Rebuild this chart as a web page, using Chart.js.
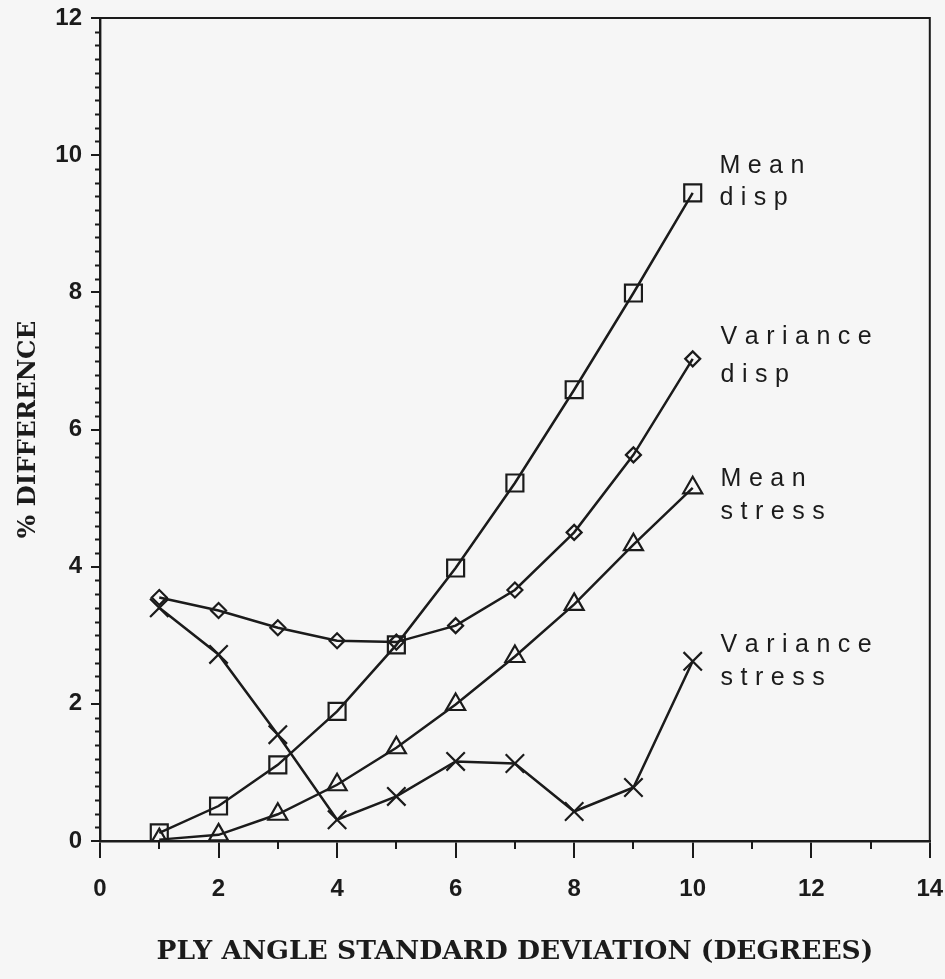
<!DOCTYPE html>
<html>
<head>
<meta charset="utf-8">
<title>Ply angle standard deviation</title>
<script src="https://cdn.jsdelivr.net/npm/chart.js@4.4.0/dist/chart.umd.min.js"></script>
<style>
  html, body { margin: 0; padding: 0; background: #f6f6f6; }
  canvas { display: block; }
</style>
</head>
<body>
<canvas id="plyChart" width="945" height="979"></canvas>
<script>
// ply angle standard deviation (degrees)
const plyAngleSD = [1, 2, 3, 4, 5, 6, 7, 8, 9, 10];

// % difference per response quantity
const meanDisp       = [0.12, 0.51, 1.11, 1.89, 2.86, 3.98, 5.22, 6.58, 7.99, 9.45];
const varianceDisp   = [3.55, 3.36, 3.11, 2.92, 2.90, 3.14, 3.66, 4.50, 5.63, 7.03];
const meanStress     = [0.02, 0.09, 0.39, 0.82, 1.36, 1.99, 2.69, 3.45, 4.32, 5.15];
const varianceStress = [3.40, 2.72, 1.55, 0.31, 0.65, 1.16, 1.13, 0.43, 0.78, 2.62];

const seriesNames = ['Mean disp', 'Variance disp', 'Mean stress', 'Variance stress'];

const xRange = [0, 14];
const yRange = [0, 12];

const INK = '#1b1b1b';
const TICK_FONT = { family: "'Liberation Sans', Arial, sans-serif", size: 24, weight: 'bold' };

// where each curve's name sits (data units), and the gap between its two lines (px)
const labelSpots = [
  { x: 10.45, y: 9.74, gap: 32 },
  { x: 10.47, y: 7.24, gap: 38 },
  { x: 10.47, y: 5.17, gap: 33 },
  { x: 10.47, y: 2.76, gap: 33 }
];

const toPoints = vals => vals.map((v, i) => ({ x: plyAngleSD[i], y: v }));

function lineSet(label, vals, style, radius) {
  return {
    label,
    data: toPoints(vals),
    borderColor: INK,
    borderWidth: 2.5,
    backgroundColor: 'rgba(0,0,0,0)',
    pointStyle: style,
    pointRadius: radius,
    pointBorderColor: INK,
    pointBorderWidth: 2.2,
    pointBackgroundColor: 'rgba(0,0,0,0)',
    tension: 0,
    fill: false
  };
}

// letter-spaced text, drawn one glyph at a time
function drawSpaced(ctx, text, x, y, spacing) {
  let cx = x;
  for (const ch of text) {
    ctx.fillText(ch, cx, y);
    cx += ctx.measureText(ch).width + spacing;
  }
}

const frameBox = {
  id: 'frameBox',
  beforeDatasetsDraw(chart) {
    const { ctx, chartArea: a } = chart;
    ctx.save();
    ctx.strokeStyle = INK;
    ctx.lineWidth = 2;
    ctx.strokeRect(a.left, a.top, a.right - a.left, a.bottom - a.top);
    ctx.restore();
  }
};

const minorTicks = {
  id: 'minorTicks',
  afterDraw(chart) {
    const { ctx, chartArea: a, scales: { x, y } } = chart;
    ctx.save();
    ctx.strokeStyle = INK;
    ctx.lineWidth = 2;
    ctx.beginPath();
    for (let v = xRange[0] + 1; v < xRange[1]; v += 2) {
      const px = Math.round(x.getPixelForValue(v));
      ctx.moveTo(px, a.bottom);
      ctx.lineTo(px, a.bottom + 8);
    }
    for (let k = 1; k < 60; k++) {
      if (k % 10 === 0) continue;
      const py = Math.round(y.getPixelForValue(k * 0.2)) + 0.5;
      ctx.moveTo(a.left - 5, py);
      ctx.lineTo(a.left, py);
    }
    ctx.stroke();
    ctx.restore();
  }
};

const curveLabels = {
  id: 'curveLabels',
  afterDatasetsDraw(chart) {
    const { ctx, scales: { x, y } } = chart;
    ctx.save();
    ctx.fillStyle = INK;
    ctx.font = "25px 'Liberation Sans', Arial, sans-serif";
    ctx.textBaseline = 'alphabetic';
    ctx.textAlign = 'left';
    labelSpots.forEach((spot, i) => {
      const px = x.getPixelForValue(spot.x);
      const py = y.getPixelForValue(spot.y);
      seriesNames[i].split(' ').forEach((word, j) => {
        drawSpaced(ctx, word, px, py + j * spot.gap, 7.5);
      });
    });
    ctx.restore();
  }
};

new Chart(document.getElementById('plyChart'), {
  type: 'line',
  data: {
    datasets: [
      lineSet(seriesNames[0], meanDisp, 'rect', 12),
      lineSet(seriesNames[1], varianceDisp, 'rectRot', 7.5),
      lineSet(seriesNames[2], meanStress, 'triangle', 11),
      lineSet(seriesNames[3], varianceStress, 'crossRot', 13)
    ]
  },
  options: {
    responsive: false,
    animation: false,
    events: [],
    layout: { padding: { top: 18, right: 13, bottom: 0, left: 0 } },
    plugins: {
      legend: { display: false },
      tooltip: { enabled: false }
    },
    scales: {
      x: {
        type: 'linear',
        min: xRange[0],
        max: xRange[1],
        border: { display: true, color: INK, width: 2.4 },
        grid: { display: true, drawOnChartArea: false, drawTicks: true, tickLength: 17, color: INK, lineWidth: 2 },
        ticks: { stepSize: 2, color: INK, font: TICK_FONT, padding: 17, maxRotation: 0 },
        title: {
          display: true,
          text: 'PLY ANGLE STANDARD DEVIATION (DEGREES)',
          color: INK,
          font: { family: "'DejaVu Serif', 'Liberation Serif', serif", size: 26.5, weight: 'bold' },
          padding: { top: 0, bottom: 11 }
        },
        afterFit(scale) {
          scale.height = 138;
          scale.paddingLeft = 0;
          scale.paddingRight = 0;
        }
      },
      y: {
        type: 'linear',
        min: yRange[0],
        max: yRange[1],
        border: { display: true, color: INK, width: 2.4 },
        grid: { display: true, drawOnChartArea: false, drawTicks: true, tickLength: 9, color: INK, lineWidth: 2 },
        ticks: { stepSize: 2, color: INK, font: TICK_FONT, padding: 9 },
        title: {
          display: true,
          text: '% DIFFERENCE',
          color: INK,
          font: { family: "'DejaVu Serif', 'Liberation Serif', serif", size: 24.5, weight: 'bold' },
          padding: { top: 14, bottom: 0 }
        },
        afterFit(scale) {
          scale.width = 100;
          scale.paddingTop = 0;
          scale.paddingBottom = 0;
        }
      }
    }
  },
  plugins: [frameBox, minorTicks, curveLabels]
});
</script>
</body>
</html>
